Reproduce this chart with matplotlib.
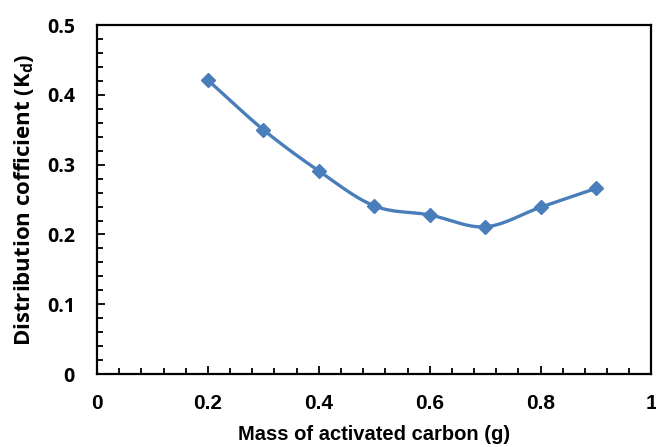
import numpy as np
import matplotlib
matplotlib.use("Agg")
from matplotlib import pyplot as plt
from matplotlib.ticker import MultipleLocator

mass = [0.2, 0.3, 0.4, 0.5, 0.6, 0.7, 0.8, 0.9]
kd = [0.421, 0.350, 0.291, 0.241, 0.228, 0.211, 0.239, 0.266]

line_color = "#4a7ebb"


def smooth_curve(x, y, n=30):
    # Catmull-Rom spline through the points, like a spreadsheet "smoothed line"
    x = np.asarray(x, float)
    y = np.asarray(y, float)
    px = np.concatenate([[2 * x[0] - x[1]], x, [2 * x[-1] - x[-2]]])
    py = np.concatenate([[2 * y[0] - y[1]], y, [2 * y[-1] - y[-2]]])
    xs, ys = [], []
    t = np.linspace(0, 1, n)
    for i in range(1, len(px) - 2):
        for p, out in ((px, xs), (py, ys)):
            p0, p1, p2, p3 = p[i - 1], p[i], p[i + 1], p[i + 2]
            out.extend(0.5 * (2 * p1 + (-p0 + p2) * t
                              + (2 * p0 - 5 * p1 + 4 * p2 - p3) * t ** 2
                              + (-p0 + 3 * p1 - 3 * p2 + p3) * t ** 3))
    return xs, ys


fig = plt.figure(figsize=(6.56, 4.47), dpi=100)
ax = fig.add_axes([0.148, 0.163, 0.845, 0.781])

sx, sy = smooth_curve(mass, kd)
ax.plot(sx, sy, color=line_color, lw=2.4, solid_capstyle="round")
ax.plot(mass, kd, linestyle="none", marker="D", markersize=7.5,
        color=line_color)

ax.set_xlim(0, 1)
ax.set_ylim(0, 0.5)
ax.xaxis.set_major_locator(MultipleLocator(0.2))
ax.xaxis.set_minor_locator(MultipleLocator(0.04))
ax.yaxis.set_major_locator(MultipleLocator(0.1))
ax.yaxis.set_minor_locator(MultipleLocator(0.02))
ax.tick_params(which="both", direction="in", width=1.3, colors="black")
ax.tick_params(which="major", length=6)
ax.tick_params(which="minor", length=4)
ax.tick_params(axis="x", which="major", pad=14)
ax.tick_params(axis="y", which="major", pad=16)
for s in ax.spines.values():
    s.set_linewidth(1.6)

ax.set_xticks([0, 0.2, 0.4, 0.6, 0.8, 1.0])
ax.set_xticklabels(["0", "0.2", "0.4", "0.6", "0.8", "1"])
ax.set_yticks([0, 0.1, 0.2, 0.3, 0.4, 0.5])
ax.set_yticklabels(["0", "0.1", "0.2", "0.3", "0.4", "0.5"])
for lab in ax.get_xticklabels():
    lab.set_fontfamily("Liberation Sans")
    lab.set_fontweight("bold")
    lab.set_fontsize(15)
for lab in ax.get_yticklabels():
    lab.set_fontfamily("Open Sans")
    lab.set_fontweight("bold")
    lab.set_fontsize(14)

ax.set_xlabel("Mass of activated carbon (g)", fontfamily="Liberation Sans",
              fontweight="bold", fontsize=14.5, labelpad=9)
ax.set_ylabel(r"Distribution cofficient (K$_\mathregular{d}$)",
              fontfamily="Open Sans", fontweight="bold", fontsize=16,
              labelpad=8)

fig.savefig("out.png", dpi=100)
